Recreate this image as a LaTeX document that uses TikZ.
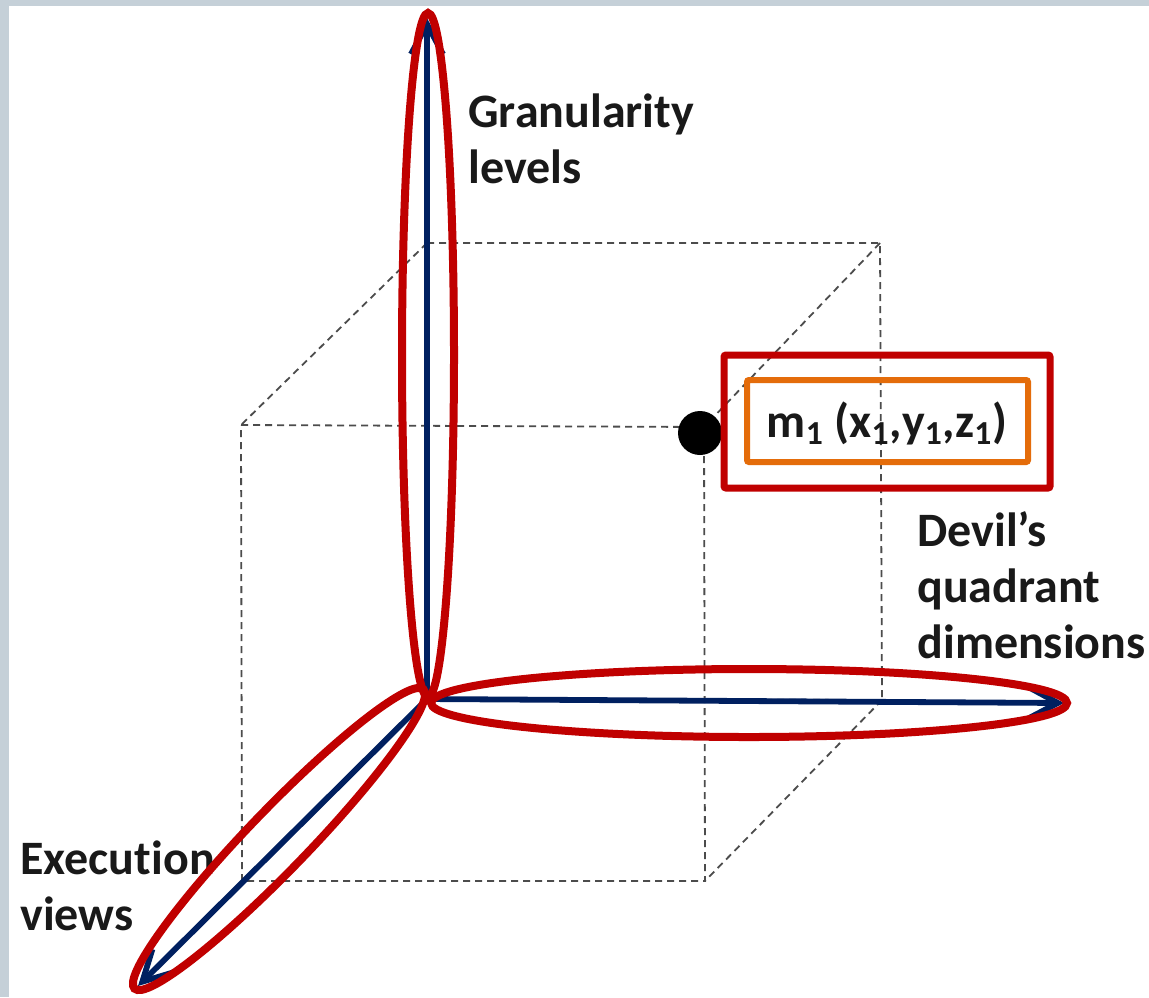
\documentclass[tikz,border=0pt]{standalone}
\usepackage{fontspec}
\setmainfont{Carlito}[Ligatures=NoCommon]
\usetikzlibrary{arrows.meta}
\definecolor{axisblue}{RGB}{0,32,96}
\definecolor{ringred}{RGB}{192,0,0}
\definecolor{boxorange}{RGB}{228,108,10}
\definecolor{slidegray}{RGB}{197,208,216}
\begin{document}
\begin{tikzpicture}[
  x=0.5pt, y=-0.5pt,
  edge/.style={black!70, line width=0.9pt, dash pattern=on 3.5pt off 2.5pt},
  axis/.style={axisblue, line width=2.9pt, -{Straight Barb[length=15pt,width=16pt]}},
  ring/.style={ringred, line width=4pt},
  lbl/.style={font=\fontsize{24}{28}\selectfont\bfseries, align=left, inner sep=0pt, text=black!90}
]
% slide background
\fill[slidegray] (0,0) rectangle (1149,997);
\fill[white] (9,6) rectangle (1149,997);
\useasboundingbox (0,0) rectangle (1149,997);

% cube corners
\coordinate (o)   at (427,699);
\coordinate (btl) at (427,243);
\coordinate (btr) at (880,243);
\coordinate (bbr) at (882,700);
\coordinate (ftl) at (241,425);
\coordinate (ftr) at (704,427);
\coordinate (fbl) at (242,881);
\coordinate (fbr) at (705,881);

% dashed cube
\draw[edge] (btl) -- (btr) -- (bbr) -- (o) -- cycle;
\draw[edge] (ftl) -- (ftr) -- (fbr) -- (fbl) -- cycle;
\draw[edge] (btl) -- (ftl);
\draw[edge] (btr) -- (ftr);
\draw[edge] (bbr) -- (fbr);
\draw[edge] (o) -- (fbl);

% axes
\coordinate (ztip) at (427,18);
\coordinate (xtip) at (1064,703);
\coordinate (ytip) at (138,986);
\draw[axis] (o) -- (ztip);
\draw[axis] (o) -- (xtip);
\draw[axis] (o) -- (ytip);

% axis labels (base = last line)
\node[lbl, anchor=base west] (gran) at (468,183) {Granularity\\levels};
\node[lbl, anchor=base west] (devil) at (917,658) {Devil’s\\quadrant\\dimensions};
\node[lbl, anchor=base west] (exec) at (20,930) {Execution\\views};

% highlight rings
\draw[ring] (428,355) ellipse [x radius=26, y radius=342];
\draw[ring] (749,703) ellipse [x radius=318, y radius=34];
\draw[ring, rotate around={46:(279,839)}] (279,839) ellipse [x radius=208, y radius=30];

% measurement point
\node[circle, fill=black, minimum size=22pt, inner sep=0pt] (m1pt) at (700,433) {};
\node[draw=ringred, line width=3.5pt, rounded corners=1pt, minimum width=163pt, minimum height=66.5pt] (m1frame) at (887,421.5) {};
\node[draw=boxorange, line width=3pt, rounded corners=1pt, minimum width=140.5pt, minimum height=41pt] (m1box) at (887.5,421) {};
\node[lbl, anchor=base] (m1) at (887,437)
  {m\textsubscript{1} (x\textsubscript{1},y\textsubscript{1},z\textsubscript{1})};
\end{tikzpicture}
\end{document}
